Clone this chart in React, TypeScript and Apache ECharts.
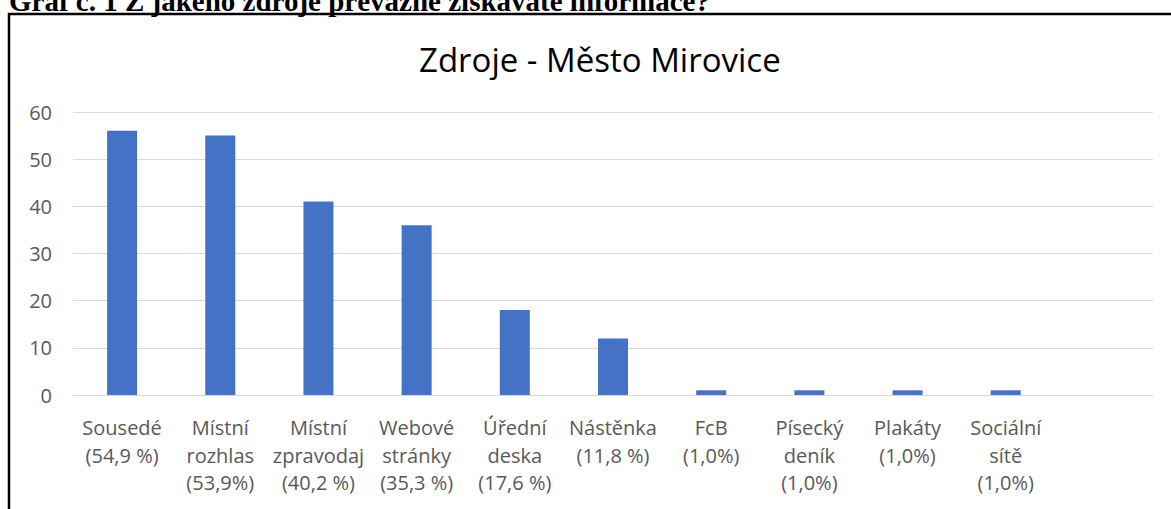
import React, { useEffect, useRef } from "react";
import * as echarts from "echarts";

const categories = [
  "Sousedé\n(54,9 %)",
  "Místní\nrozhlas\n(53,9%)",
  "Místní\nzpravodaj\n(40,2 %)",
  "Webové\nstránky\n(35,3 %)",
  "Úřední\ndeska\n(17,6 %)",
  "Nástěnka\n(11,8 %)",
  "FcB\n(1,0%)",
  "Písecký\ndeník\n(1,0%)",
  "Plakáty\n(1,0%)",
  "Sociální\nsítě\n(1,0%)",
  "",
];
const values = [56, 55, 41, 36, 18, 12, 1, 1, 1, 1, null];
const chartTitle = "Zdroje - Město Mirovice";
const captionText = "Graf č. 1 Z jakého zdroje převážně získáváte informace?";

export default function App() {
  const ref = useRef<HTMLDivElement>(null);
  useEffect(() => {
    document.body.style.margin = "0";
    const chart = echarts.init(ref.current!, null, { renderer: "svg" });
    const font = "'Open Sans', sans-serif";
    chart.setOption({
      animation: false,
      backgroundColor: "#ffffff",
      title: {
        text: chartTitle,
        left: 414,
        top: 38,
        textStyle: { fontFamily: font, fontSize: 33, fontWeight: "normal", color: "#000000" },
      },
      grid: { left: 73, right: 18, top: 112, bottom: 114, containLabel: false },
      xAxis: {
        type: "category",
        data: categories,
        axisTick: { show: false },
        axisLine: { lineStyle: { color: "#d9d9d9", width: 1 } },
        axisLabel: {
          interval: 0,
          margin: 19,
          fontFamily: font,
          fontSize: 20,
          lineHeight: 27.5,
          color: "#595959",
        },
      },
      yAxis: {
        type: "value",
        min: 0,
        max: 60,
        interval: 10,
        axisLine: { show: false },
        axisTick: { show: false },
        splitLine: { lineStyle: { color: "#d9d9d9", width: 1 } },
        axisLabel: { margin: 21, fontFamily: font, fontSize: 20, color: "#595959" },
      },
      series: [
        {
          type: "bar",
          data: values,
          barWidth: 30,
          itemStyle: { color: "#4472C4" },
        },
      ],
      graphic: [
        {
          type: "text",
          x: 9,
          y: 1,
          style: {
            text: captionText,
            fontFamily: "'Liberation Serif', 'Times New Roman', serif",
            fontWeight: "bold",
            fontSize: 29,
            fill: "#000000",
            verticalAlign: "middle",
          },
        },
        {
          type: "polyline",
          shape: { points: [[9, 520], [9, 14], [1180, 14]] },
          style: { stroke: "#000000", lineWidth: 2.5, fill: null },
        },
      ],
    });
    return () => chart.dispose();
  }, []);
  return <div ref={ref} style={{ width: 1171, height: 509 }} />;
}
